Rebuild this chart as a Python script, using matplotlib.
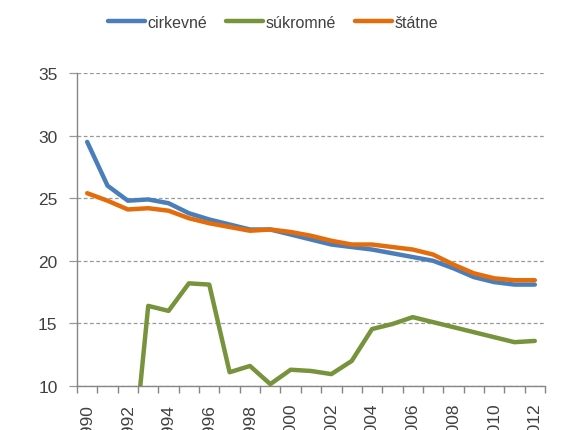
import matplotlib
matplotlib.use("Agg")
import matplotlib.pyplot as plt
import numpy as np

years = list(range(1990, 2013))
cirkevne = [29.5, 26.0, 24.8, 24.9, 24.6, 23.8, 23.3, 22.9, 22.5, 22.5, 22.1, 21.7, 21.3,
            21.1, 20.9, 20.6, 20.3, 20.0, 19.4, 18.7, 18.3, 18.1, 18.1]
sukromne = [np.nan, np.nan, 0.0, 16.4, 16.0, 18.2, 18.1, 11.1, 11.6, 10.15, 11.3, 11.2, 10.95,
            12.0, 14.55, 14.95, 15.5, 15.1, 14.7, 14.3, 13.9, 13.5, 13.6]
statne = [25.4, 24.8, 24.1, 24.2, 24.0, 23.4, 23.0, 22.7, 22.4, 22.5, 22.3, 22.0, 21.6,
          21.3, 21.3, 21.1, 20.9, 20.5, 19.7, 19.0, 18.6, 18.45, 18.45]
series_names = ["cirkevné", "súkromné", "štátne"]
colors = ["#4A7EBB", "#77933C", "#E46C0A"]
yticks = [10, 15, 20, 25, 30, 35]

plt.rcParams['font.family'] = ['Liberation Sans', 'DejaVu Sans']
txt = "#404040"

fig = plt.figure(figsize=(5.85, 4.31), dpi=100)
ax = fig.add_axes([77/585, 1-387/431, 468/585, (387-74)/431])

x = np.arange(len(years))
for vals, name, c in zip([cirkevne, sukromne, statne], series_names, colors):
    ax.plot(x, vals, color=c, lw=3.2, label=name, solid_capstyle='round', solid_joinstyle='round')

ax.set_xlim(-0.5, len(years) - 0.5)
ax.set_ylim(10, 35)
ax.set_yticks(yticks)
ax.set_yticklabels([str(v) for v in yticks], fontsize=12.5, color=txt)
ax.yaxis.grid(True, color="#999999", linestyle=(0, (3, 2)), lw=0.9)
ax.set_axisbelow(True)

# category boundaries as major ticks, labels at centres
ax.set_xticks(np.arange(-0.5, len(years), 1.0))
ax.set_xticklabels([])
ax.set_xticks(x[::2], minor=True)
ax.set_xticklabels([str(y) for y in years[::2]], minor=True, rotation=90,
                   fontsize=12.5, color=txt, va='top', ha='center')
ax.tick_params(axis='x', which='major', length=5, color="#868686", width=1)
ax.tick_params(axis='x', which='minor', length=0, pad=12)
ax.tick_params(axis='y', length=6, color="#999999", width=0.9, pad=8)

for s in ["top", "right"]:
    ax.spines[s].set_visible(False)
for s in ["left", "bottom"]:
    ax.spines[s].set_color("#868686")
    ax.spines[s].set_linewidth(1)

leg = fig.legend(loc='center', bbox_to_anchor=(273/585, 1 - 23/431), ncol=3, frameon=False,
                 fontsize=11.5, handlelength=2.3, handletextpad=0.15, columnspacing=1.2)
for t in leg.get_texts():
    t.set_color(txt)

fig.savefig("out.png", dpi=100)
